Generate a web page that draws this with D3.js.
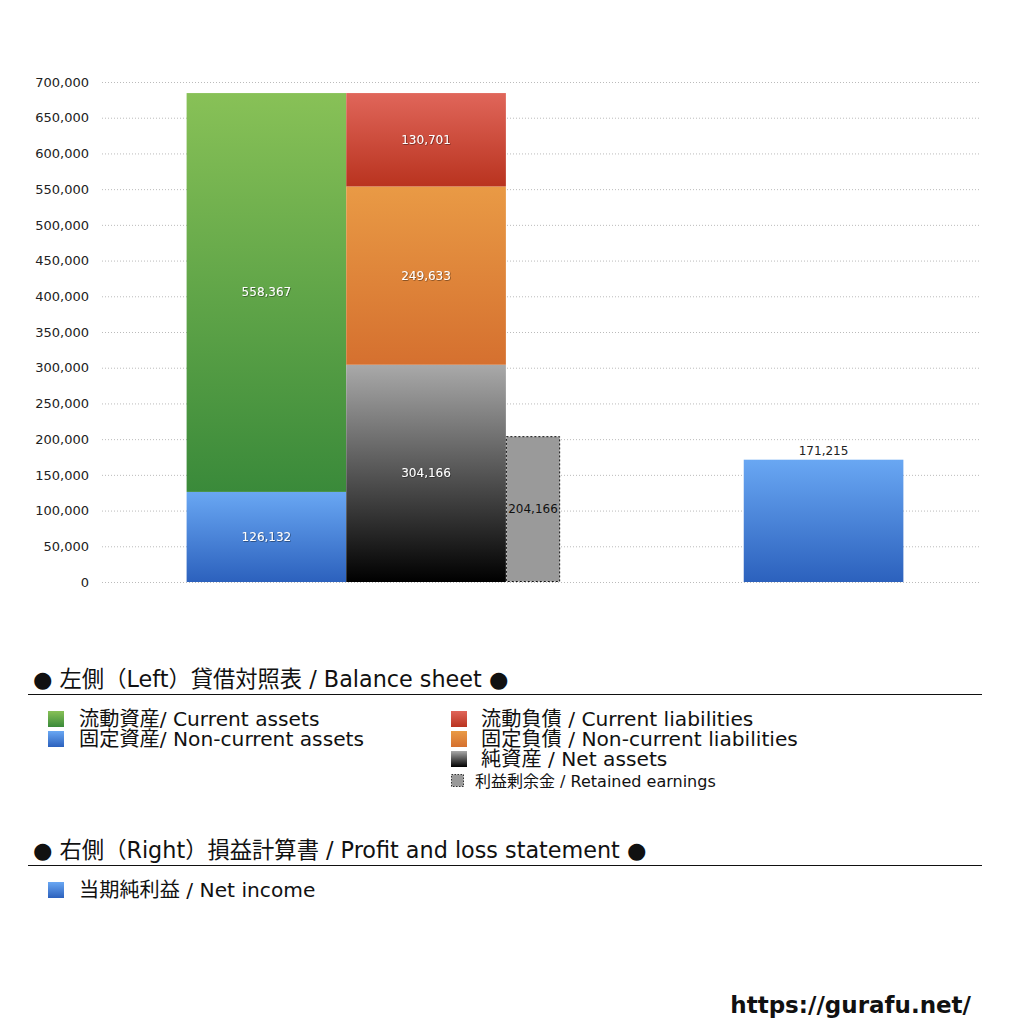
<!DOCTYPE html>
<html>
<head>
<meta charset="utf-8">
<script src="https://cdn.jsdelivr.net/npm/d3@7"></script>
<style>
  body { margin: 0; background: #fff; }
  svg { font-family: "DejaVu Sans", "Noto Sans CJK JP", sans-serif; }
</style>
</head>
<body>
<div id="chart"></div>
<script>
var W = 1024, H = 1024;

// data
var assetNames = ["固定資産", "流動資産"];
var assetValues = [126132, 558367];
var liabNames = ["純資産", "固定負債", "流動負債"];
var liabValues = [304166, 249633, 130701];
var retainedValue = 204166;
var netIncome = 171215;
var yTicks = [0, 50000, 100000, 150000, 200000, 250000, 300000, 350000, 400000, 450000, 500000, 550000, 600000, 650000, 700000];

var legendLeft = ["流動資産/ Current assets", "固定資産/ Non-current assets"];
var legendRight = ["流動負債 /  Current liabilities", "固定負債 / Non-current liabilities", "純資産 / Net assets"];

var svg = d3.select("#chart").append("svg").attr("width", W).attr("height", H);
var defs = svg.append("defs");

function grad(id, top, bottom) {
    var g = defs.append("linearGradient").attr("id", id)
        .attr("x1", 0).attr("y1", 0).attr("x2", 0).attr("y2", 1);
    g.append("stop").attr("offset", "0%").attr("stop-color", top);
    g.append("stop").attr("offset", "100%").attr("stop-color", bottom);
}
grad("gGreen", "#88c157", "#3a8a3a");
grad("gBlue", "#69a7f3", "#2c61bd");
grad("gRed", "#e0665a", "#b9331f");
grad("gOrange", "#e99a45", "#d5702f");
grad("gBlack", "#a9a9a9", "#000000");

var shadow = defs.append("filter").attr("id", "tshadow");
shadow.append("feDropShadow").attr("dx", 0.6).attr("dy", 0.6).attr("stdDeviation", 0.4)
    .attr("flood-color", "#000").attr("flood-opacity", 0.6);

var y = d3.scaleLinear().domain([0, 700000]).range([582, 82]);
// column slots, in bar widths
var x = d3.scaleLinear().domain([0, 5.5]).range([102, 980]);

// grid
svg.append("g").selectAll("line").data(yTicks).enter().append("line")
    .attr("x1", 102).attr("x2", 980)
    .attr("y1", function(d) { return y(d) + 0.5; })
    .attr("y2", function(d) { return y(d) + 0.5; })
    .style("stroke", "#bbb").style("stroke-width", 1)
    .style("stroke-dasharray", "1,2");

// y axis
var yAxis = d3.axisLeft(y).tickValues(yTicks).tickSize(0).tickPadding(0)
    .tickFormat(d3.format(","));
var ax = svg.append("g").attr("transform", "translate(89,0)").call(yAxis);
ax.select(".domain").remove();
ax.selectAll("text").style("font-size", "13px").style("fill", "#222")
    .style("font-family", "'DejaVu Sans', sans-serif");

function stack(vals) {
    var acc = 0;
    return vals.map(function(v) { var s = { y0: acc, y1: acc + v, v: v }; acc += v; return s; });
}

var fmt = d3.format(",");

function drawStack(vals, fills, col, w) {
    var g = svg.append("g");
    var segs = stack(vals);
    g.selectAll("rect").data(segs).enter().append("rect")
        .attr("x", x(col)).attr("width", x(col + w) - x(col))
        .attr("y", function(d) { return y(d.y1); })
        .attr("height", function(d) { return y(d.y0) - y(d.y1); })
        .attr("fill", function(d, i) { return "url(#" + fills[i] + ")"; });
    g.selectAll("text").data(segs).enter().append("text")
        .attr("x", (x(col) + x(col + w)) / 2)
        .attr("y", function(d) { return (y(d.y0) + y(d.y1)) / 2 + 4; })
        .attr("text-anchor", "middle")
        .style("font-size", "12px").style("fill", "#fff")
        .attr("filter", "url(#tshadow)")
        .text(function(d) { return fmt(d.v); });
}

drawStack(assetValues, ["gBlue", "gGreen"], 0.53, 1);
drawStack(liabValues, ["gBlack", "gOrange", "gRed"], 1.53, 1);

// retained earnings
svg.append("rect")
    .attr("x", x(2.53) + 0.5).attr("width", x(2.87) - x(2.53) - 1)
    .attr("y", y(retainedValue) + 0.5).attr("height", y(0) - y(retainedValue) - 1)
    .attr("fill", "#9a9a9a").attr("stroke", "#111").attr("stroke-width", 1)
    .attr("stroke-dasharray", "2,2");
svg.append("text")
    .attr("x", (x(2.53) + x(2.87)) / 2)
    .attr("y", (y(retainedValue) + y(0)) / 2 + 4)
    .attr("text-anchor", "middle").style("font-size", "12px").style("fill", "#111")
    .text(fmt(retainedValue));

// net income
svg.append("rect")
    .attr("x", x(4.02)).attr("width", x(5.02) - x(4.02))
    .attr("y", y(netIncome)).attr("height", y(0) - y(netIncome))
    .attr("fill", "url(#gBlue)");
svg.append("text")
    .attr("x", (x(4.02) + x(5.02)) / 2).attr("y", y(netIncome) - 5)
    .attr("text-anchor", "middle").style("font-size", "12px").style("fill", "#222")
    .text(fmt(netIncome));

// legend
function heading(txt, ty, ly) {
    svg.append("text").attr("x", 33).attr("y", ty)
        .style("font-size", "22.3px").style("fill", "#111").text(txt);
    svg.append("line").attr("x1", 28).attr("x2", 982).attr("y1", ly).attr("y2", ly)
        .style("stroke", "#111").style("stroke-width", 1);
}
heading("● 左側（Left）貸借対照表 / Balance sheet ●", 687, 694.5);
heading("● 右側（Right）損益計算書 / Profit and loss statement ●", 858, 865.5);

function item(sx, tx, ty, fill, txt) {
    svg.append("rect").attr("x", sx).attr("y", ty - 15).attr("width", 16).attr("height", 16)
        .attr("fill", fill);
    svg.append("text").attr("x", tx).attr("y", ty)
        .style("font-size", "20.2px").style("fill", "#111").text(txt);
}
var lf = ["url(#gGreen)", "url(#gBlue)"];
legendLeft.forEach(function(t, i) { item(48, 79, 726 + i * 20, lf[i], t); });
var rf = ["url(#gRed)", "url(#gOrange)", "url(#gBlack)"];
legendRight.forEach(function(t, i) { item(451, 481, 726 + i * 20, rf[i], t); });

svg.append("rect").attr("x", 451.5).attr("y", 774.5).attr("width", 12).attr("height", 12)
    .attr("fill", "#9a9a9a").attr("stroke", "#333").attr("stroke-dasharray", "1.5,1.5");
svg.append("text").attr("x", 475).attr("y", 787)
    .style("font-size", "16px").style("fill", "#111").text("利益剰余金 / Retained earnings");

item(48, 79, 897, "url(#gBlue)", "当期純利益 / Net income");

svg.append("text").attr("x", 971).attr("y", 1013).attr("text-anchor", "end")
    .style("font-size", "23px").style("font-weight", "bold").style("fill", "#111")
    .text("https://gurafu.net/");
</script>
</body>
</html>
